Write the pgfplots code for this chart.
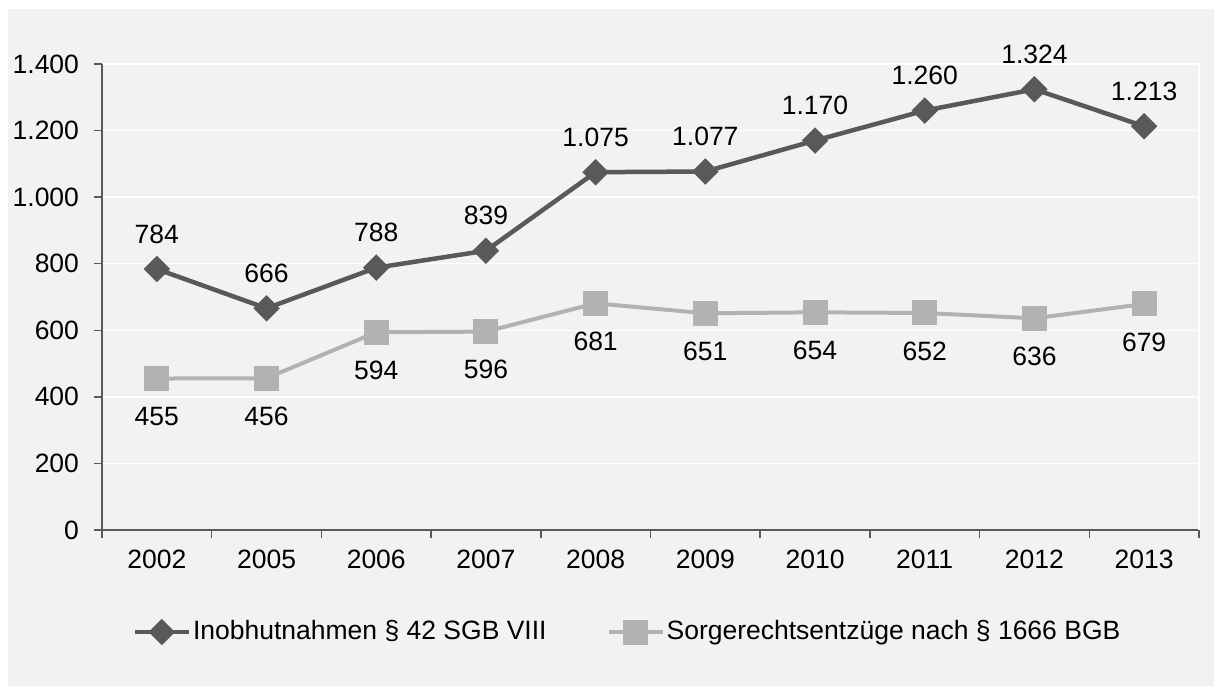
\documentclass[border=0pt]{standalone}
\usepackage{pgfplots}
\pgfplotsset{compat=1.18}
\usepackage{fontspec}
\setmainfont{Liberation Sans}
\definecolor{bg}{HTML}{F2F2F2}
\definecolor{s1}{HTML}{595959}
\definecolor{s2}{HTML}{B2B2B2}
\definecolor{ax}{HTML}{5A5A5A}
\pgfkeys{/pgf/number format/1000 sep={.}, /pgf/number format/assume math mode=true}
\begin{document}
\fontsize{26.5}{31}\selectfont
\begin{tikzpicture}[x=1pt,y=1pt]
\fill[white] (0,0) rectangle (1214,686);
\fill[bg] (8,0) rectangle (1214,677);
\useasboundingbox (0,0) rectangle (1214,686);
\begin{axis}[at={(102pt,156pt)}, anchor=south west, scale only axis,
  width=1097pt, height=466pt,
  xmin=-0.5, xmax=9.5, ymin=0, ymax=1400, clip=false,
  axis x line*=bottom, axis y line*=left,
  axis line style={-, draw=ax, line width=1.5pt},
  xtick={0,...,9},
  xticklabels={2002,2005,2006,2007,2008,2009,2010,2011,2012,2013},
  minor xtick={-0.5,0.5,...,9.5},
  ytick={0,200,...,1400},
  scaled y ticks=false,
  tick align=outside,
  major tick length=8pt, minor tick length=8pt,
  every major x tick/.style={draw=none},
  every minor x tick/.style={draw=ax, line width=1.5pt},
  every major y tick/.style={draw=ax, line width=1.5pt},
  yticklabel style={xshift=-6pt},
  xticklabel style={yshift=-3pt},
  ymajorgrids, major grid style={white, line width=1.5pt},
  legend style={at={(0.479,-0.219)}, anchor=center, draw=none, fill=none,
    legend columns=2, /tikz/every even column/.append style={column sep=58pt}},
  legend cell align=left,
  legend image code/.code={\draw[mark repeat=2,mark phase=2,#1] plot coordinates {(0pt,0pt) (27pt,0pt) (54pt,0pt)};},
]
\draw[white, line width=1.5pt] (rel axis cs:1,0) -- (rel axis cs:1,1);
\addplot[s1, line width=4.5pt, mark=square*, mark size=7.1pt, mark options={solid, rotate=45, fill=s1, draw=s1},
  nodes near coords, nodes near coords style={anchor=center, yshift=35pt, text=black}]
  coordinates {(0,784) (1,666) (2,788) (3,839) (4,1075) (5,1077) (6,1170) (7,1260) (8,1324) (9,1213)};
\addplot[s2, line width=4pt, mark=square*, mark size=10.5pt, mark options={solid, fill=s2, draw=s2},
  nodes near coords, nodes near coords style={anchor=center, yshift=-38pt, text=black}]
  coordinates {(0,455) (1,456) (2,594) (3,596) (4,681) (5,651) (6,654) (7,652) (8,636) (9,679)};
\legend{Inobhutnahmen § 42 SGB VIII, Sorgerechtsentzüge nach § 1666 BGB}
\end{axis}
\end{tikzpicture}
\end{document}
